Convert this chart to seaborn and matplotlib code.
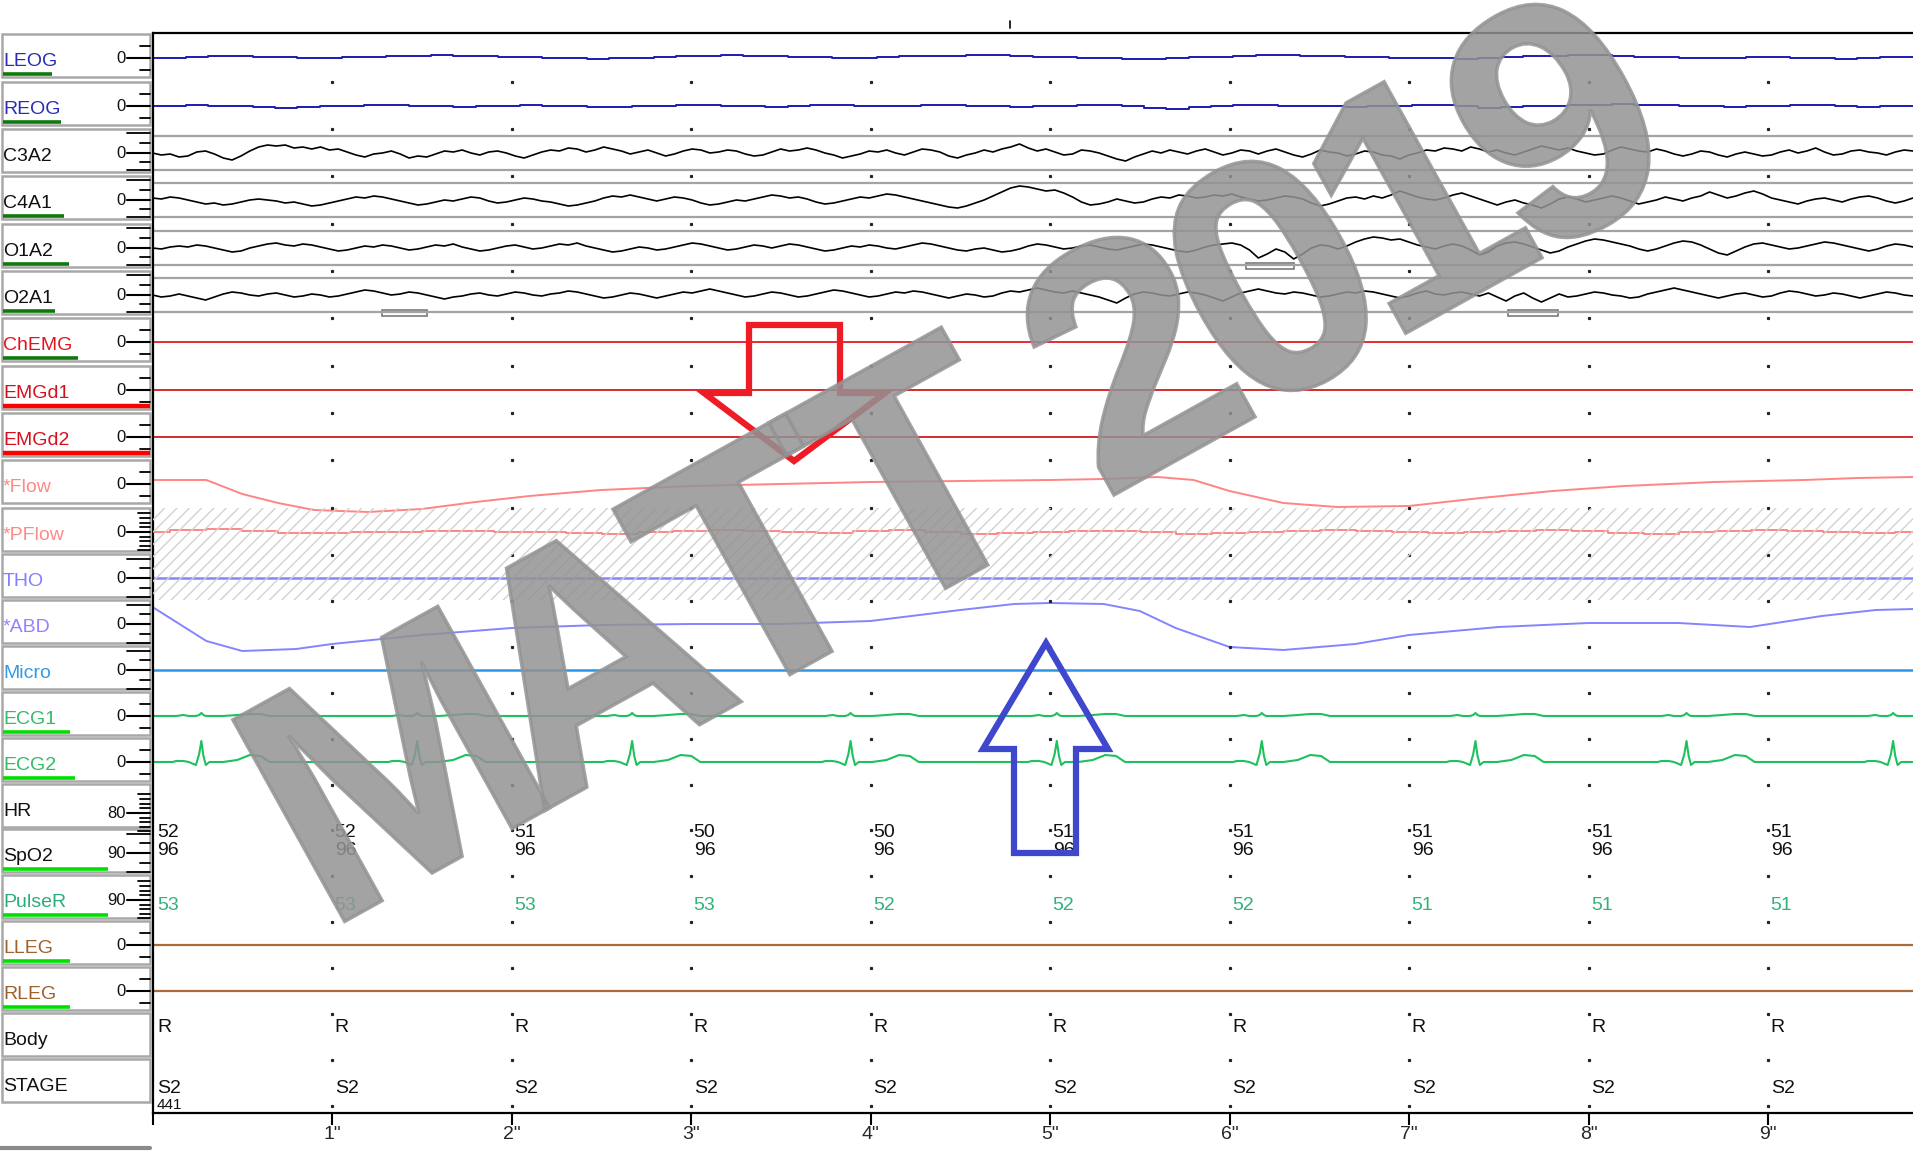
import numpy as np
import matplotlib
matplotlib.use("Agg")
import matplotlib.pyplot as plt
from matplotlib.patches import Rectangle, Polygon, PathPatch
from matplotlib.textpath import TextPath
from matplotlib.font_manager import FontProperties
from matplotlib.transforms import Affine2D
from matplotlib.path import Path
import seaborn as sns

# -----------------------------
# 0. Data
# -----------------------------
channels = ["LEOG", "REOG", "C3A2", "C4A1", "O1A2", "O2A1", "ChEMG", "EMGd1", "EMGd2",
            "*Flow", "*PFlow", "THO", "*ABD", "Micro", "ECG1", "ECG2", "HR", "SpO2",
            "PulseR", "LLEG", "RLEG", "Body", "STAGE"]
scale_labels = ["0", "0", "0", "0", "0", "0", "0", "0", "0", "0", "0", "0", "0", "0",
                "0", "0", "80", "90", "90", "0", "0", "", ""]

seconds = [0, 1, 2, 3, 4, 5, 6, 7, 8, 9]
second_labels = ["", '1"', '2"', '3"', '4"', '5"', '6"', '7"', '8"', '9"']

hr_values = [52, 52, 51, 50, 50, 51, 51, 51, 51, 51]
spo2_values = [96, 96, 96, 96, 96, 96, 96, 96, 96, 96]
pulse_values = [53, 53, 53, 53, 52, 52, 52, 51, 51, 51]
body_values = ["R", "R", "R", "R", "R", "R", "R", "R", "R", "R"]
stage_values = ["S2", "S2", "S2", "S2", "S2", "S2", "S2", "S2", "S2", "S2"]
epoch_number = "441"
watermark = "MATT 2019"

# traces, in pixels above each channel's zero line
leog = [0, 0, 1, 2, 2, 1, 1, 0, 0, 1, 1, 2, 2, 3, 2, 2, 1, 1, 0, 0, -1, 0, 0, 1, 2, 2,
        3, 2, 2, 1, 1, 0, 0, 1, 2, 2, 2, 3, 3, 2, 1, 1, 0, 0, -1, -1, 0, 1, 1, 2, 3, 3,
        2, 2, 1, 1, 0, 0, 0, -1, 0, 1, 2, 2, 3, 3, 2, 1, 1, 0, 0, 0, 1, 1, 0, 0, -1, 0,
        1, 1]
reog = [0, 0, 1, 0, 0, -1, -2, -1, 0, 0, 1, 1, 0, 0, -1, 0, 0, 1, 0, 0, -1, -1, 0, 0,
        1, 1, 0, 0, -1, 0, 1, 1, 0, 0, 0, 1, 1, 0, 0, -1, 0, 0, 1, 1, 0, -2, -3, -1, 0,
        1, 1, 0, 0, 0, -1, 0, 0, 1, 1, 0, -2, -1, 0, 0, 1, 1, 2, 1, 1, 0, 0, -1, 0, 0,
        1, 1, 0, -1, 0, 0]
c3a2 = [0, -2, -1, -4, -3, 1, 2, -1, -5, -7, -3, 2, 6, 8, 7, 8, 5, 6, 4, 6,
        3, 4, 1, -2, -4, -1, 0, 2, -1, -5, -3, -4, -1, 2, 1, 3, 0, -2, 1, 2,
        0, -3, -5, -2, 1, 3, 2, 5, 4, 1, 3, 6, 4, 2, -1, 1, 3, 0, -3, -1,
        2, 4, 3, 0, 1, 3, 2, -1, -3, -2, 1, 4, 2, 3, 5, 3, 0, -2, -5, -3,
        -1, 2, 1, 3, 0, -2, 1, 4, 3, 1, -3, -5, -2, 0, 3, 1, 4, 6, 9, 5,
        2, 4, 1, -2, -1, 3, 2, 0, -3, -6, -8, -4, -1, 2, 0, 3, 1, -1, 2, 4,
        1, -2, 0, 3, 2, -1, 2, 4, 1, -2, -4, -1, 3, 1, 0, -3, -1, 2, 1, -2,
        -3, -6, -2, 0, 3, 2, 5, 4, 2, 6, 4, 1, 3, 0, -2, 1, 4, 7, 5, 3,
        5, 2, 0, -2, -1, 3, 6, 4, 2, 1, 4, 2, -1, -3, -1, 2, 1, -2, -4, -1,
        1, -1, -3, -2, 1, 3, 0, 2, 5, 1, -2, -1, 2, 3, 1, 0, -2, 1, 3, 2]
c4a1 = [2, 1, 3, 2, 0, -2, -4, -3, -5, -4, -2, 0, 1, 0, -1, -3, -2, -4, -6, -5,
        -3, -1, 1, 3, 2, 4, 3, 1, -1, -3, -5, -4, -2, 0, -1, 1, 3, 2, -1, -3,
        -2, 0, 2, 1, -1, -2, -4, -6, -5, -3, -1, 2, 4, 3, 5, 3, 1, -1, 1, 3,
        2, 0, -3, -5, -4, -2, 0, -1, 1, 3, 5, 4, 2, 3, 1, -2, -4, -3, -1, 1,
        3, 2, 4, 6, 5, 3, 1, -1, -3, -5, -7, -8, -6, -3, 0, 4, 8, 12, 14, 13,
        11, 9, 10, 7, 3, -2, -5, -4, -2, 1, -1, -3, -2, 1, 3, 2, 5, 4, 2, 3,
        5, 4, 6, 3, 1, -1, 0, 2, 4, 3, 1, -3, -6, -4, -1, 2, 3, 1, 4, 2,
        5, 9, 6, 3, 1, 0, 2, 5, 7, 4, 1, -2, -5, -2, 0, -3, -5, -8, -4, 1,
        3, 1, -2, 0, 2, 4, 2, -1, -4, -2, 0, 3, 1, -1, 2, 4, 8, 5, 2, 4,
        7, 9, 6, 2, 0, -2, -4, -1, 1, 2, 0, -2, 1, 3, 4, 2, -1, -3, -1, 2]
o1a2 = [0, -1, 1, 2, 1, 3, 2, 0, -2, -4, -3, 0, 2, 4, 5, 3, 2, 4, 3, 1,
        -1, -3, -2, 0, 2, 1, 3, 2, 0, -2, -1, 1, 3, 2, 4, 1, -1, -3, -2, 0,
        2, 3, 1, -1, 0, 2, 4, 3, 5, 2, 0, -2, -4, -3, -1, 1, 0, -2, -1, 1,
        3, 5, 4, 2, 0, -2, -1, 1, 3, 2, 0, 2, 4, 3, 1, -1, -3, -2, 0, 2,
        1, 3, 2, 0, -1, 1, 3, 5, 4, 2, 0, -2, -3, -1, 0, -2, -4, -3, -1, 2,
        4, 3, 1, -1, 0, 2, 3, 1, -1, -2, 0, 2, 4, 3, 1, -1, -3, -4, -2, 1,
        3, 4, 5, 3, -2, -10, -6, -1, -4, -11, -6, 0, 3, 2, -1, 2, 6, 9, 11, 10,
        8, 9, 6, 3, 1, -1, 2, 4, 2, -2, -7, -4, 2, 5, 6, 4, 1, -2, -5, -3,
        1, 4, 7, 9, 8, 6, 4, 2, -1, -3, -1, 2, 5, 7, 6, 3, -1, -5, -7, -3,
        1, 4, 5, 3, 1, -1, 0, 2, 4, 6, 5, 3, 1, -1, -3, -1, 2, 4, 3, 1]
o2a1 = [0, -2, -1, 1, -1, -3, -5, -2, 1, 3, 2, 0, -1, 1, 2, 0, -2, -1, 1, 0,
        -2, -1, 1, 3, 5, 4, 2, 0, 1, 3, 2, 0, -2, -4, -2, -1, 1, 2, 0, -1,
        1, 3, 2, 0, -1, 1, 2, 4, 3, 1, -1, -3, -2, 0, 2, 1, -1, -3, -1, 1,
        3, 2, 4, 6, 4, 2, 0, -2, -1, 1, 3, 2, 0, -2, -1, 1, 3, 5, 4, 2,
        0, -2, -1, 1, 3, 2, 4, 3, 1, -1, -3, -1, 1, 0, -2, -1, 2, 4, 3, 5,
        7, 5, 3, 2, 4, 2, 0, -2, -5, -8, -3, 1, 3, 2, 0, -1, 1, 3, 2, 0,
        -3, -6, -2, 2, 4, 6, 4, 2, 1, 3, 2, 0, -2, -1, 1, 3, 2, 4, 3, 1,
        -1, -3, -1, 2, 4, 1, 0, 2, 3, 1, -1, 2, -2, -6, -1, 2, -3, -7, -3, 1,
        -2, -1, 1, 3, 2, 0, -1, -3, -2, 1, 3, 5, 7, 5, 3, 1, -1, -3, -1, 1,
        2, 0, -2, -1, 2, 4, 3, 1, -1, 0, 2, 1, -1, -3, -1, 1, 3, 2, 0, -1]
chemg = [0, 0, 0, 0, 0, 0, 0, 0, 0, 0]
emgd1 = [0, 0, 0, 0, 0, 0, 0, 0, 0, 0]
emgd2 = [0, 0, 0, 0, 0, 0, 0, 0, 0, 0]

flow_t = [0, 0.3, 0.5, 0.7, 0.9, 1.2, 1.5, 1.8, 2.1, 2.5, 3.0, 3.5, 4.0, 4.5, 5.0, 5.3,
          5.6, 5.8, 6.0, 6.3, 6.6, 7.0, 7.4, 7.8, 8.2, 8.7, 9.2, 9.5, 9.81]
flow_v = [4, 4, -10, -19, -26, -28, -25, -18, -12, -6, -2, 0, 2, 3, 4, 5, 7, 4, -7, -19,
          -23, -22, -14, -7, -2, 2, 4, 6, 7]
pflow = [0, 2, 3, 1, -1, -1, 0, 0, 1, 1, 0, 0, -1, -2, 0, 1, 2, 1, 0, -1, 1, 2, 0, -2,
         -1, 0, 1, 1, 0, -2, -1, 0, 1, 2, 1, 0, -1, 0, 1, 2, 1, -1, -2, 0, 1, 2, 1, 0, -1, 0]
tho = [0, 0, 0, 0, 0, 0, 0, 0, 0, 0]
abd_t = [0, 0.3, 0.5, 0.8, 1.0, 1.5, 2.0, 2.5, 3.0, 3.5, 4.0, 4.5, 4.8, 5.0, 5.3, 5.5,
         5.7, 6.0, 6.3, 6.7, 7.0, 7.5, 8.0, 8.5, 8.9, 9.3, 9.6, 9.81]
abd_v = [17, -17, -27, -25, -20, -11, -4, -1, 0, 0, 3, 14, 20, 21, 20, 13, -4, -23, -26,
         -20, -11, -3, 1, 1, -3, 8, 14, 15]
micro = [0, 0, 0, 0, 0, 0, 0, 0, 0, 0]

ecg_beats = [0.272, 1.475, 2.672, 3.889, 5.038, 6.180, 7.370, 8.546, 9.697]
ecg_shape_t = [-0.16, -0.14, -0.10, -0.07, -0.03, -0.012, 0.0, 0.012, 0.025, 0.045,
               0.12, 0.2, 0.27, 0.33, 0.38, 0.45]
ecg1_shape_v = [0, 0, 1, 0, 0, 1, 3, 1, 0, 0, 0, 1, 2, 2, 0, 0]
ecg2_shape_v = [0, 1, 1, 0, -3, 8, 21, 6, -3, 0, 0, 2, 7, 6, 0, 0]

lleg = [0, 0, 0, 0, 0, 0, 0, 0, 0, 0]
rleg = [0, 0, 0, 0, 0, 0, 0, 0, 0, 0]

artifact_t0 = [1.28, 6.09, 7.55]
artifact_t1 = [1.53, 6.36, 7.83]
artifact_row = ["O2A1", "O1A2", "O2A1"]

# -----------------------------
# 1. Layout / styling
# -----------------------------
W, H = 1913, 1152
X0, TOP, BOT = 152.5, 33, 1113
PX_PER_S = 179.5
T_END = (W - X0) / PX_PER_S

row_y = np.array([58, 106, 153, 200, 248, 295, 342, 390, 437, 484, 532, 578, 624, 670,
                  716, 762, 808, 853, 899, 945, 991, 1037, 1083], dtype=float)
row = dict(zip(channels, row_y))

label_colors = ["#2b2bb5", "#2b2bb5", "#111111", "#111111", "#111111", "#111111",
                "#e0141e", "#d4101c", "#d4101c", "#ff8a8a", "#ff8a8a", "#8080ff",
                "#9b7dff", "#3399e6", "#33bb66", "#33bb66", "#111111", "#111111",
                "#2aae78", "#a0602a", "#a0602a", "#111111", "#111111"]
bar_end = [52, 61, 0, 64, 69, 55, 78, 150, 150, 0, 0, 0, 0, 0, 70, 75, 0, 108, 108, 70,
           70, 0, 0]
bar_color = ["#0b7a0b"] * 7 + ["#ff0000"] * 2 + ["#00e000"] * 14
zero_shift = {"HR": 5, "SpO2": 0, "PulseR": 1}

sns.set_theme(style="white")
plt.rcParams["font.family"] = ["Liberation Sans", "DejaVu Sans"]

fig = plt.figure(figsize=(W / 100, H / 100), dpi=100)
ax = fig.add_axes([X0 / W, 1 - BOT / H, (W - X0) / W, (BOT - TOP) / H])
over = fig.add_axes([0, 0, 1, 1], zorder=5)
over.set_xlim(0, W)
over.set_ylim(H, 0)
over.axis("off")


def trace(t, vals, name, color, lw=1.3, **kw):
    y = row[name] - np.asarray(vals, dtype=float)
    sns.lineplot(x=np.asarray(t, dtype=float), y=y, ax=ax, color=color, linewidth=lw,
                 estimator=None, sort=False, legend=False, **kw)


def even(vals):
    return np.linspace(0, T_END, len(vals))


def ecg(shape_v):
    t, v = [0.0], [0.0]
    for b in ecg_beats:
        for dt, val in zip(ecg_shape_t, shape_v):
            t.append(b + dt)
            v.append(val)
    t.append(T_END + 0.5)
    v.append(0)
    return t, v


# -----------------------------
# 2. Traces
# -----------------------------
# hatched band behind PFlow / THO
hatch_clip = Rectangle((X0, 508), W - X0, 92, transform=over.transData, fill=False, lw=0)
over.add_patch(hatch_clip)
for xs in np.arange(X0 - 92, W, 12.3):
    ln, = over.plot([xs, xs + 92], [600, 508], color="#d2d2d2", lw=1.0, zorder=0)
    ln.set_clip_path(hatch_clip)

for name in ["C3A2", "C4A1", "O1A2", "O2A1"]:
    ax.axhline(row[name] - 17, color="#a3a3a3", lw=1.6)
    ax.axhline(row[name] + 17, color="#a3a3a3", lw=1.6)

trace(even(leog), leog, "LEOG", "#1c1cb0", lw=1.4, drawstyle="steps-mid")
trace(even(reog), reog, "REOG", "#1c1cb0", lw=1.4, drawstyle="steps-mid")
trace(even(c3a2), c3a2, "C3A2", "black", lw=1.2)
trace(even(c4a1), c4a1, "C4A1", "black", lw=1.2)
trace(even(o1a2), o1a2, "O1A2", "black", lw=1.2)
trace(even(o2a1), o2a1, "O2A1", "black", lw=1.2)
trace(even(chemg), chemg, "ChEMG", "#e01b24", lw=1.3)
trace(even(emgd1), emgd1, "EMGd1", "#d21a22", lw=1.3)
trace(even(emgd2), emgd2, "EMGd2", "#d21a22", lw=1.3)
trace(flow_t, flow_v, "*Flow", "#ff8585", lw=1.4)
trace(even(pflow), pflow, "*PFlow", "#ff8585", lw=1.4, drawstyle="steps-mid")
trace(even(tho), tho, "THO", "#8484ff", lw=1.8)
trace(abd_t, abd_v, "*ABD", "#8484ff", lw=1.4)
trace(even(micro), micro, "Micro", "#2d96e6", lw=1.8)
t1, v1 = ecg(ecg1_shape_v)
trace(t1, v1, "ECG1", "#1ec15e", lw=1.5)
t2, v2 = ecg(ecg2_shape_v)
trace(t2, v2, "ECG2", "#1ec15e", lw=1.5)
trace(even(lleg), lleg, "LLEG", "#a86a3a", lw=1.6)
trace(even(rleg), rleg, "RLEG", "#a86a3a", lw=1.6)

for a, b, name in zip(artifact_t0, artifact_t1, artifact_row):
    ax.add_patch(Rectangle((a, row[name] + 15), b - a, 6, fill=False,
                           edgecolor="#7a7a7a", lw=1.2))

# dot grid at every second between rows
bounds = np.append((row_y[:-1] + row_y[1:]) / 2, row_y[-1] + 23)
for s in seconds[1:]:
    ax.plot([s] * len(bounds), bounds, linestyle="none", marker="s",
            markersize=1.3, color="#222222")

# numeric rows
for s, hr, sp, pr, bd, st in zip(seconds, hr_values, spo2_values, pulse_values,
                                 body_values, stage_values):
    x = s + (0.025 if s == 0 else 0.015)
    ax.text(x, 837, str(hr), fontsize=14, color="#111111", va="baseline")
    ax.text(x, 855, str(sp), fontsize=14, color="#111111", va="baseline")
    ax.text(x, 910, str(pr), fontsize=14, color="#33b37a", va="baseline")
    ax.text(x, 1032, bd, fontsize=14, color="#111111", va="baseline")
    ax.text(x, 1093, st, fontsize=14, color="#111111", va="baseline")
ax.text(0.025, 1109, epoch_number, fontsize=11, color="#111111", va="baseline")

ax.set_xlim(0, T_END)
ax.set_ylim(BOT, TOP)
ax.set_xticks(seconds)
ax.set_xticklabels(second_labels)
ax.set_yticks([])
ax.tick_params(axis="x", direction="out", length=8.6, width=1.5, color="black",
               labelsize=14, pad=1, bottom=True)
for side in ["top", "left", "bottom"]:
    ax.spines[side].set_visible(True)
    ax.spines[side].set_color("black")
    ax.spines[side].set_linewidth(1.6)
ax.spines["right"].set_visible(False)
ax.set_xlabel("")
ax.set_ylabel("")

# -----------------------------
# 3. Channel label panel
# -----------------------------
for i, (name, cy) in enumerate(zip(channels, row_y)):
    over.add_patch(Rectangle((2, cy - 24), 148, 43, facecolor="white",
                             edgecolor="#a8a8a8", lw=1.8, zorder=1))
    over.text(3, cy + 8, name, fontsize=14, color=label_colors[i], va="baseline",
              zorder=3)
    if bar_end[i]:
        over.plot([3, bar_end[i]], [cy + 16, cy + 16], color=bar_color[i],
                  lw=3.2 if i in (7, 8) else 2.6, solid_capstyle="butt", zorder=2)
    if scale_labels[i] == "":
        continue
    zy = cy + zero_shift.get(name, 0)
    over.text(126, zy + 5, scale_labels[i], fontsize=12, color="#111111",
              ha="right", va="baseline", zorder=3)
    over.plot([127, 150], [zy, zy], color="black", lw=1.5, zorder=2)
    if name in ["C3A2", "C4A1", "O1A2", "O2A1"]:
        marks = [(-20, 127), (-10, 140), (9, 140), (17, 127)]
    elif name in ["*PFlow", "HR", "PulseR"]:
        marks = [(-19, 138), (-14, 140), (-9, 140), (-5, 140), (5, 140), (9, 140),
                 (14, 140), (18, 138)]
    elif name in ["THO", "Micro", "SpO2", "*ABD"]:
        marks = [(-19, 127), (-10, 140), (10, 140), (19, 127)]
    else:
        marks = [(-12, 140), (12, 140)]
    for dy, xs in marks:
        over.plot([xs, 150], [zy + dy, zy + dy], color="black", lw=1.3, zorder=2)

# small scale bar and cursor marks
over.plot([0, 150], [1148, 1148], color="#8a8a8a", lw=3)
over.plot([1010, 1010], [21, 28], color="black", lw=1.2)

# -----------------------------
# 4. Hand-drawn arrows and watermark
# -----------------------------
red_arrow = [(749, 325), (840, 325), (840, 393), (885, 393), (794, 461), (704, 393),
             (749, 393)]
blue_arrow = [(1046, 643), (1108, 749), (1076, 749), (1076, 853), (1014, 853),
              (1014, 749), (983, 749)]
over.add_patch(Polygon(red_arrow, closed=True, fill=False, edgecolor="#ee1c25", lw=4.5,
                       joinstyle="miter", zorder=4))
over.add_patch(Polygon(blue_arrow, closed=True, fill=False, edgecolor="#3f48cc", lw=4.5,
                       joinstyle="miter", zorder=4))

# watermark: bold glyphs set a little tighter than normal spacing
wm = fig.add_axes([0, 0, 1, 1], zorder=6)
wm.set_xlim(0, W)
wm.set_ylim(0, H)
wm.axis("off")
wm_prop = FontProperties(family="Liberation Sans", weight="bold")
advance = {"M": 0.833, "A": 0.722, "T": 0.611, " ": 0.278, "2": 0.556, "0": 0.556,
           "1": 0.556, "9": 0.556}
spacing = 0.87
em = 335.0
glyphs, pen = [], 0.0
for ch in watermark:
    if ch != " ":
        gp = TextPath((0, 0), ch, size=100, prop=wm_prop)
        glyphs.append(Affine2D().translate(pen, 0).transform_path(gp))
    pen += advance[ch] * 100 * spacing
wm_path = Path.make_compound_path(*glyphs)
span = pen - advance["9"] * 100 * spacing + advance["9"] * 100
wm_tr = (Affine2D()
         .translate(-span / 2, -36)
         .scale(em / 100)
         .rotate_deg(29)
         .translate(950, H - 448))
wm.add_patch(PathPatch(wm_tr.transform_path(wm_path), facecolor="#939393",
                       edgecolor="#939393", lw=2.5, alpha=0.85))

fig.savefig("out.png", dpi=100)
plt.close(fig)
